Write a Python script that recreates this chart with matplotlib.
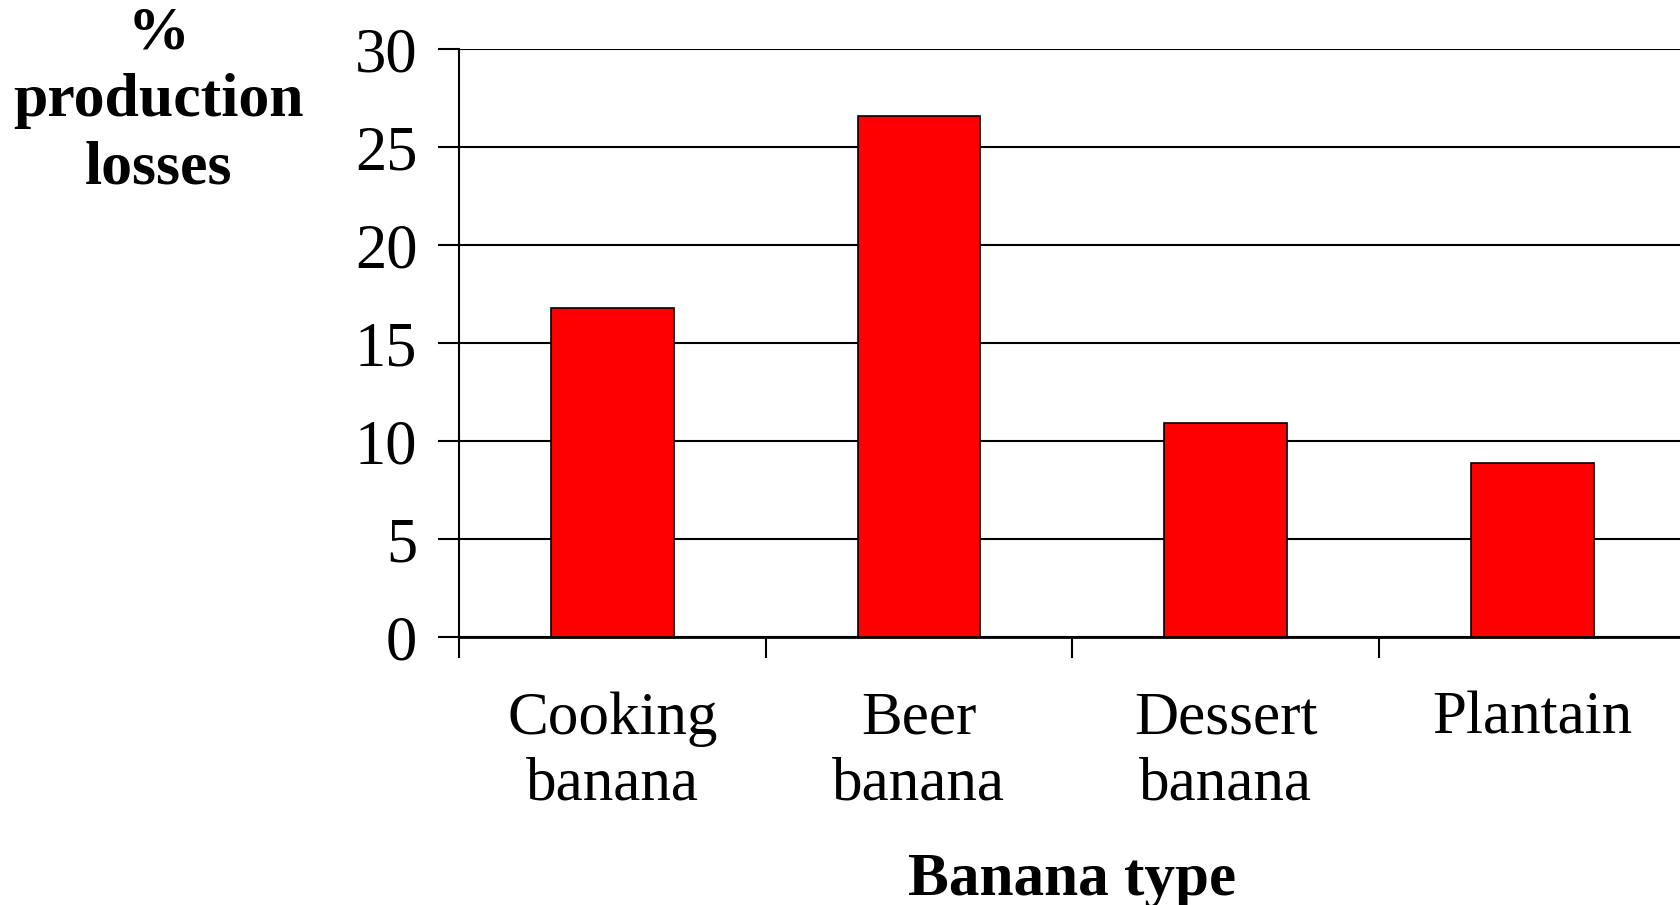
import numpy as np
import matplotlib
matplotlib.use('Agg')
import matplotlib.pyplot as plt

# datos
tipos = ['Cooking\nbanana', 'Beer\nbanana', 'Dessert\nbanana', 'Plantain']
perdidas = [16.8, 26.6, 10.9, 8.9]
y_ticks = [0, 5, 10, 15, 20, 25, 30]

plt.rcParams['font.family'] = ['Liberation Serif', 'DejaVu Serif']

fig = plt.figure(figsize=(16.81, 9.05), dpi=100)
ax = fig.add_axes([459 / 1681, 1 - 637 / 905, 1226.5 / 1681, 588 / 905])

x = np.arange(len(tipos))
ax.bar(x, perdidas, width=0.4, color='#FF0000', edgecolor='black',
       linewidth=1.2, zorder=3)

ax.set_xlim(-0.5, len(tipos) - 0.5)
ax.set_ylim(0, 30)
ax.set_yticks(y_ticks)
ax.set_yticklabels([str(v) for v in y_ticks], fontsize=45)
ax.yaxis.grid(True, color='black', linewidth=1.5, zorder=0)
ax.set_axisbelow(True)

# ticks mayores en los limites de categoria, etiquetas en los menores
ax.set_xticks(np.arange(len(tipos) + 1) - 0.5)
ax.set_xticklabels([])
ax.set_xticks(x, minor=True)
ax.set_xticklabels(tipos, minor=True, fontsize=44, linespacing=1.24)
ax.tick_params(axis='x', which='major', direction='out', length=15,
               width=1.5)
ax.tick_params(axis='x', which='minor', length=0, pad=39)
ax.tick_params(axis='y', direction='out', length=15, width=1.5, pad=15)

for lado in ['top', 'right']:
    ax.spines[lado].set_visible(False)
ax.spines['left'].set_linewidth(1.5)
ax.spines['bottom'].set_linewidth(2)

fig.text(159 / 1681, 1 - 101 / 905, '%\nproduction\nlosses', fontsize=44.5,
         fontweight='bold', ha='center', va='center', multialignment='center',
         linespacing=1.26)
fig.text(1072 / 1681, 1 - 880 / 905, 'Banana type', fontsize=44,
         fontweight='bold', ha='center', va='center')

plt.savefig('out.png', dpi=100)
